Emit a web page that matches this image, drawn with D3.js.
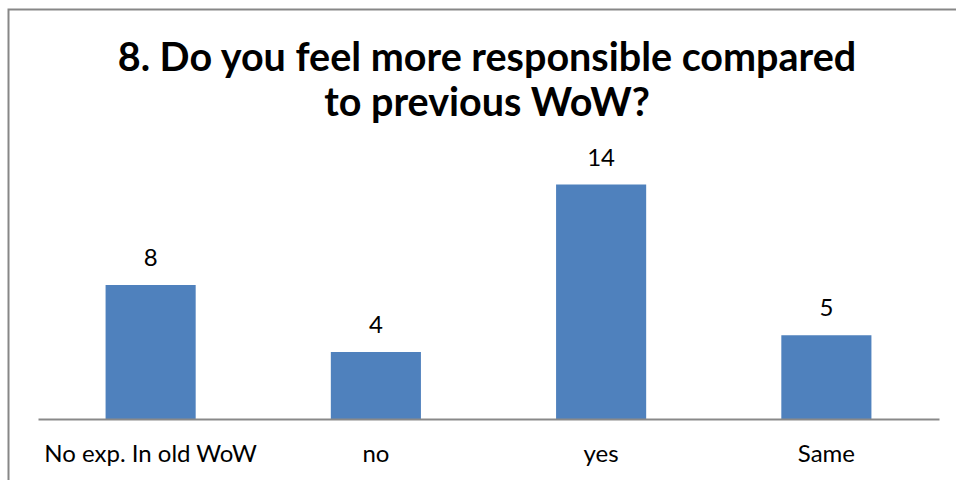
<!DOCTYPE html>
<html>
<head>
<meta charset="utf-8">
<script src="https://cdn.jsdelivr.net/npm/d3@7"></script>
<style>
  html, body { margin: 0; padding: 0; background: #fff; }
  svg { display: block; }
  text { font-family: Lato, "Open Sans", sans-serif; fill: #000; }
</style>
</head>
<body>
<svg id="chart" width="956" height="480"></svg>
<script>
// Survey answers for question 8
const categories = ["No exp. In old WoW", "no", "yes", "Same"];
const counts = [8, 4, 14, 5];
const titleLines = ["8. Do you feel more responsible compared", "to previous WoW?"];

const W = 956, H = 480;
const svg = d3.select("#chart");

// chart frame (only top and left edges fall inside the view)
svg.append("rect")
  .attr("x", 8.5).attr("y", 9.5)
  .attr("width", W + 20).attr("height", H + 20)
  .attr("fill", "none").attr("stroke", "#878787").attr("stroke-width", 2);

const plot = { left: 38, right: 939, top: 151, bottom: 419 };

const x = d3.scaleBand()
  .domain(categories)
  .range([plot.left, plot.right])
  .paddingInner(0.6)
  .paddingOuter(0.3);

const y = d3.scaleLinear()
  .domain([0, 16])
  .range([plot.bottom, plot.top]);

// title
svg.append("text")
  .attr("x", 487).attr("y", 71)
  .attr("text-anchor", "middle")
  .style("font-weight", "bold").style("font-size", "39.5px")
  .selectAll("tspan").data(titleLines).join("tspan")
  .attr("x", 487)
  .attr("dy", (d, i) => i === 0 ? 0 : 45)
  .text(d => d);

// bars
svg.append("g").selectAll("rect").data(categories).join("rect")
  .attr("x", d => x(d))
  .attr("width", x.bandwidth())
  .attr("y", (d, i) => y(counts[i]))
  .attr("height", (d, i) => y(0) - y(counts[i]))
  .attr("fill", "#4F81BD");

// value labels
svg.append("g").selectAll("text").data(categories).join("text")
  .attr("x", d => x(d) + x.bandwidth() / 2)
  .attr("y", (d, i) => y(counts[i]) - 19)
  .attr("text-anchor", "middle")
  .style("font-size", "24px")
  .text((d, i) => counts[i]);

// category axis
const xAxis = svg.append("g")
  .attr("transform", `translate(0,${plot.bottom})`)
  .call(d3.axisBottom(x).tickSize(0).tickPadding(26));
xAxis.select(".domain").attr("stroke", "#898989").attr("stroke-width", 2);
xAxis.selectAll(".tick text")
  .style("font-family", "Lato, 'Open Sans', sans-serif")
  .style("font-size", "24px")
  .attr("fill", "#000");
</script>
</body>
</html>
